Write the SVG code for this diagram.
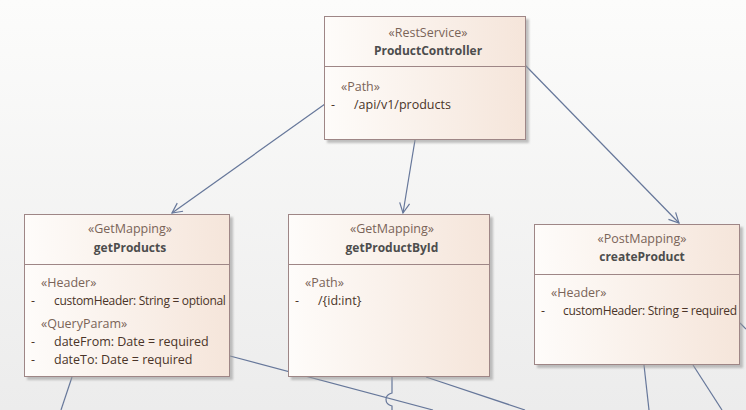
<svg xmlns="http://www.w3.org/2000/svg" width="746" height="410" viewBox="0 0 746 410">
  <defs>
    <linearGradient id="bg" x1="0" y1="0" x2="0" y2="1">
      <stop offset="0" stop-color="#fcfcfb"/>
      <stop offset="1" stop-color="#ececec"/>
    </linearGradient>
    <linearGradient id="boxFill" x1="0" y1="0" x2="1" y2="0">
      <stop offset="0" stop-color="#fefcfa"/>
      <stop offset="1" stop-color="#f5e5da"/>
    </linearGradient>
    <filter id="shadow" x="-5%" y="-5%" width="115%" height="115%">
      <feDropShadow dx="3" dy="3" stdDeviation="0.8" flood-color="#9a9a9a" flood-opacity="0.6"/>
    </filter>
    <marker id="open" viewBox="0 0 12 12" refX="11" refY="6" markerWidth="12" markerHeight="12" markerUnits="userSpaceOnUse" orient="auto">
      <path d="M1,1 L11,6 L1,11" fill="none" stroke="#66779a" stroke-width="1.2"/>
    </marker>
  </defs>
  <style>
    .box { fill: url(#boxFill); stroke: #9e8686; stroke-width: 1; filter: url(#shadow); }
    .div { stroke: #9e8686; stroke-width: 1; }
    .st { font-family: "Open Sans", "Noto Sans", sans-serif; font-size: 12.5px; fill: #7a6458; text-anchor: middle; }
    .nm { font-family: "Open Sans", "Noto Sans", sans-serif; font-size: 12px; font-weight: bold; fill: #4d4d4d; text-anchor: middle; }
    .sec { font-family: "Open Sans", "Noto Sans", sans-serif; font-size: 12.5px; fill: #7a6458; }
    .attr { font-family: "Open Sans", "Noto Sans", sans-serif; font-size: 12.5px; fill: #4a3428; }
    .tight { font-size: 12px; letter-spacing: -0.3px; }
    .conn { fill: none; stroke: #66779a; stroke-width: 1.2; }
  </style>

  <rect width="746" height="410" fill="url(#bg)"/>

  <!-- connectors -->
  <g id="connectors">
    <line class="conn" x1="325" y1="104" x2="172" y2="213" marker-end="url(#open)"/>
    <line class="conn" x1="415" y1="140" x2="403" y2="213" marker-end="url(#open)"/>
    <line class="conn" x1="525" y1="65" x2="679" y2="223" marker-end="url(#open)"/>
    <line class="conn" x1="72" y1="377" x2="61" y2="410"/>
    <line class="conn" x1="230" y1="356" x2="433" y2="410"/>
    <line class="conn" x1="426" y1="377" x2="525" y2="410"/>
    <path class="conn" d="M392,377 V393 C384,395 384,404 392,406 V410"/>
    <line class="conn" x1="644" y1="365" x2="649" y2="410"/>
    <line class="conn" x1="693" y1="365" x2="722" y2="410"/>
    <line class="conn" x1="740" y1="323" x2="746" y2="329"/>
  </g>

  <!-- ProductController -->
  <g id="ProductController">
    <rect class="box" x="324.5" y="16.5" width="201" height="123"/>
    <line class="div" x1="324.5" y1="66.5" x2="525.5" y2="66.5"/>
    <text class="st" x="428" y="37">«RestService»</text>
    <text class="nm" x="428" y="55">ProductController</text>
    <text class="sec" x="341" y="91">«Path»</text>
    <text class="attr" x="331" y="109">-</text>
    <text class="attr" x="354" y="109">/api/v1/products</text>
  </g>

  <!-- getProducts -->
  <g id="getProducts">
    <rect class="box" x="24.5" y="214.5" width="205" height="162"/>
    <line class="div" x1="24.5" y1="264.5" x2="229.5" y2="264.5"/>
    <text class="st" x="130" y="233">«GetMapping»</text>
    <text class="nm" x="130" y="252">getProducts</text>
    <text class="sec" x="41" y="287">«Header»</text>
    <text class="attr" x="31" y="305">-</text>
    <text class="attr tight" x="54" y="305">customHeader: String = optional</text>
    <text class="sec" x="41" y="328">«QueryParam»</text>
    <text class="attr" x="31" y="346">-</text>
    <text class="attr" x="54" y="346">dateFrom: Date = required</text>
    <text class="attr" x="31" y="364">-</text>
    <text class="attr" x="54" y="364">dateTo: Date = required</text>
  </g>

  <!-- getProductById -->
  <g id="getProductById">
    <rect class="box" x="288.5" y="214.5" width="201" height="162"/>
    <line class="div" x1="288.5" y1="264.5" x2="489.5" y2="264.5"/>
    <text class="st" x="392" y="233">«GetMapping»</text>
    <text class="nm" x="392" y="252">getProductById</text>
    <text class="sec" x="305" y="287">«Path»</text>
    <text class="attr" x="295" y="305">-</text>
    <text class="attr" x="318" y="305">/{id:int}</text>
  </g>

  <!-- createProduct -->
  <g id="createProduct">
    <rect class="box" x="534.5" y="224.5" width="205" height="140"/>
    <line class="div" x1="534.5" y1="274.5" x2="739.5" y2="274.5"/>
    <text class="st" x="642" y="243">«PostMapping»</text>
    <text class="nm" x="642" y="261">createProduct</text>
    <text class="sec" x="551" y="297">«Header»</text>
    <text class="attr" x="541" y="315">-</text>
    <text class="attr tight" x="563" y="315">customHeader: String = required</text>
  </g>
</svg>
